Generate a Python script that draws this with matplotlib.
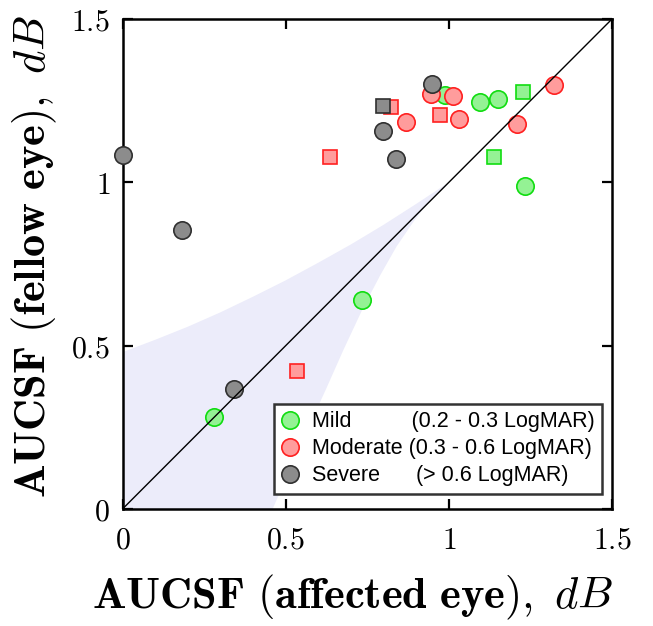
import matplotlib
matplotlib.use("Agg")
import matplotlib.pyplot as plt
from matplotlib.lines import Line2D
from matplotlib.ticker import FixedLocator

plt.rcParams['mathtext.fontset'] = 'cm'

# ---- data ----
mild_circ_x = [0.281, 0.733, 0.988, 1.096, 1.152, 1.234]
mild_circ_y = [0.281, 0.640, 1.267, 1.246, 1.256, 0.988]
mild_sq_x = [1.228, 1.139]
mild_sq_y = [1.277, 1.078]

mod_circ_x = [0.945, 1.014, 0.869, 1.032, 1.210, 1.322]
mod_circ_y = [1.271, 1.264, 1.184, 1.195, 1.179, 1.297]
mod_sq_x = [0.823, 0.973, 0.636, 0.536]
mod_sq_y = [1.230, 1.207, 1.078, 0.423]

sev_circ_x = [0.948, 0.799, 0.837, 0.000, 0.183, 0.343]
sev_circ_y = [1.302, 1.156, 1.072, 1.083, 0.855, 0.367]
sev_sq_x = [0.797]
sev_sq_y = [1.235]

# shaded region boundaries
band_upper_x = [0.0, 0.1, 0.2, 0.3, 0.4, 0.5, 0.6, 0.7, 0.8, 0.9, 1.0]
band_upper_y = [0.48, 0.518, 0.558, 0.602, 0.650, 0.700, 0.754, 0.810, 0.870, 0.934, 1.0]
band_lower_x = [0.46, 0.515, 0.57, 0.625, 0.677, 0.737, 0.79, 0.84, 0.892, 0.942, 1.0]
band_lower_y = [0.0, 0.125, 0.25, 0.370, 0.487, 0.615, 0.716, 0.804, 0.880, 0.945, 1.0]

ticks = [0, 0.5, 1, 1.5]
tick_labels = ['0', '0.5', '1', '1.5']

legend_labels = ['Mild          (0.2 - 0.3 LogMAR)',
                 'Moderate (0.3 - 0.6 LogMAR)',
                 'Severe      (> 0.6 LogMAR)']

colors = {
    'mild': ('#94F294', '#10DD10'),
    'mod': ('#FF9C9C', '#FF2020'),
    'sev': ('#8C8C8C', '#303030'),
}

fig = plt.figure(figsize=(6.53, 6.26), dpi=100)
ax = fig.add_axes([0.1876, 0.1869, 0.7496, 0.7827])

# shaded polygon
poly_x = [0.0] + band_lower_x + band_upper_x[::-1]
poly_y = [0.0] + band_lower_y + band_upper_y[::-1]
ax.fill(poly_x, poly_y, color='#ECECFA', lw=0, zorder=1)

csize = 12.5
ssize = 10
for key, cx, cy, sx, sy in [('mild', mild_circ_x, mild_circ_y, mild_sq_x, mild_sq_y),
                            ('mod', mod_circ_x, mod_circ_y, mod_sq_x, mod_sq_y),
                            ('sev', sev_circ_x, sev_circ_y, sev_sq_x, sev_sq_y)]:
    fc, ec = colors[key]
    ax.plot(cx, cy, 'o', ms=csize, mfc=fc, mec=ec, mew=1.2, ls='none', zorder=3, clip_on=False)
    ax.plot(sx, sy, 's', ms=ssize, mfc=fc, mec=ec, mew=1.2, ls='none', zorder=3, clip_on=False)

ax.plot([0, 1.5], [0, 1.5], color='black', lw=1.0, zorder=4)

ax.set_xlim(0, 1.5)
ax.set_ylim(0, 1.5)

ax.xaxis.set_major_locator(FixedLocator(ticks))
ax.yaxis.set_major_locator(FixedLocator(ticks))
ax.set_xticklabels(['$\\mathrm{%s}$' % t for t in tick_labels])
ax.set_yticklabels(['$\\mathrm{%s}$' % t for t in tick_labels])
ax.tick_params(direction='in', length=7.5, width=1.6, labelsize=21.5,
               top=True, right=True)
ax.tick_params(axis='x', pad=12)
ax.tick_params(axis='y', pad=9)
for sp in ax.spines.values():
    sp.set_linewidth(1.8)

ax.set_xlabel(r'$\mathbf{AUCSF}\ (\mathbf{affected\ eye}),\ dB$', fontsize=32)
ax.set_ylabel(r'$\mathbf{AUCSF}\ (\mathbf{fellow\ eye}),\ dB$', fontsize=32)
ax.xaxis.set_label_coords(0.47, -0.13)
ax.yaxis.set_label_coords(-0.13, 0.515)

handles = [Line2D([], [], marker='o', ls='none', ms=csize, mfc=colors[k][0],
                  mec=colors[k][1], mew=1.2) for k in ['mild', 'mod', 'sev']]
leg = ax.legend(handles, legend_labels, loc='lower right',
                bbox_to_anchor=(0.98, 0.031), fancybox=False, framealpha=1,
                edgecolor='#333333', handlelength=0.8, handletextpad=0.6,
                borderpad=0.35, labelspacing=0.28, borderaxespad=0,
                prop={'family': 'Liberation Sans', 'size': 15.5})
leg.get_frame().set_linewidth(1.8)
leg.set_zorder(5)

fig.savefig('out.png', dpi=100)
